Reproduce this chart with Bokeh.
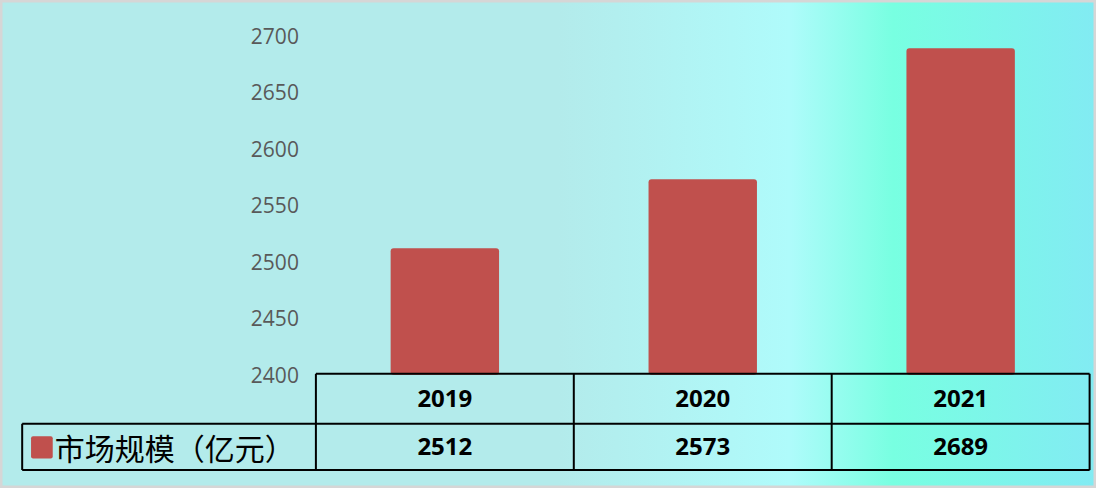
from bokeh.plotting import figure
from bokeh.models import Range1d, LinearAxis, FixedTicker, ColumnDataSource
from bokeh.core.properties import value
from bokeh.embed import file_html
from bokeh.resources import INLINE
import numpy as np

# ---- data ----
years = ["2019", "2020", "2021"]
market_size = [2512, 2573, 2689]
series_name = "市场规模（亿元）"
y_ticks = [2400, 2450, 2500, 2550, 2600, 2650, 2700]

# ---- layout helpers (reference pixel -> data units) ----
W, H = 1096, 488
REF_W, REF_H = 1112, 504
PX_PER_CAT = (1105 - 320) / 3.0   # reference px per category
X0_REF = 320.0                    # reference x of category 0 left edge
Y0_REF = 386.5                    # reference y of value 2400
BASE = 2400
UNITS_PER_PX = 300.0 / 350.0


def xr(ref_x):
    return (ref_x - X0_REF) / PX_PER_CAT


def yr(ref_y):
    return BASE + (Y0_REF - ref_y) * UNITS_PER_PX


p = figure(width=W, height=H, output_backend="svg", toolbar_location=None,
           x_range=Range1d(xr(0), xr(REF_W)), y_range=Range1d(yr(REF_H), yr(0)),
           x_axis_location=None, y_axis_location=None,
           min_border_left=0, min_border_right=0, min_border_top=0, min_border_bottom=0,
           background_fill_alpha=0, border_fill_alpha=0,
           outline_line_color="#D6D6D6", outline_line_width=4,
           styles={"background-image": "linear-gradient(to right, #B3EBEB 0%, #B3EBEB 51%, #AFFBFB 72%, #78FFE1 81.5%, #82EBF3 100%)"})
p.grid.visible = False

yaxis = LinearAxis(fixed_location=0, ticker=FixedTicker(ticks=y_ticks),
                   axis_line_color=None, major_tick_line_color=None, minor_tick_line_color=None,
                   major_tick_out=0, major_tick_in=0, minor_tick_out=0, minor_tick_in=0,
                   major_label_standoff=17, major_label_text_font="Open Sans",
                   major_label_text_font_size="21px", major_label_text_color="#595959")
p.add_layout(yaxis, "left")

xs = np.arange(len(years)) + 0.5
src = ColumnDataSource(dict(x=xs, top=market_size, year=years,
                            label=[str(v) for v in market_size]))
p.vbar(x="x", top="top", bottom=BASE, width=110 / PX_PER_CAT, source=src,
       fill_color="#C0504D", line_color=None, border_radius=3)

# ---- data table ----
n = len(years)
y_top, y_mid, y_bot = yr(385.5), yr(437), yr(485)
x_leg = xr(22)
lc, lw = "black", 2
p.segment(x0=[0, x_leg, x_leg], x1=[n, n, n], y0=[y_top, y_mid, y_bot], y1=[y_top, y_mid, y_bot],
          line_color=lc, line_width=lw)
vx = list(range(n + 1))
p.segment(x0=vx, x1=vx, y0=[y_top] * (n + 1), y1=[y_bot] * (n + 1), line_color=lc, line_width=lw)
p.segment(x0=[x_leg], x1=[x_leg], y0=[y_mid], y1=[y_bot], line_color=lc, line_width=lw)

p.text(x="x", y=yr(411), text="year", source=src, text_align="center", text_baseline="middle",
       text_font=value("Open Sans"), text_font_style="bold", text_font_size="24px", text_color="black")
p.text(x="x", y=yr(461), text="label", source=src, text_align="center", text_baseline="middle",
       text_font=value("Open Sans"), text_font_style="bold", text_font_size="24px", text_color="black")

# legend key in table
p.rect(x=[xr(42)], y=[yr(461.5)], width=22 / PX_PER_CAT, height=23 * UNITS_PER_PX,
       fill_color="#C0504D", line_color=None, border_radius=2)
p.text(x=[xr(55)], y=[yr(461)], text=[series_name], text_align="left", text_baseline="middle",
       text_font=value("Noto Sans CJK SC"), text_font_size="30px", text_color="black")

open("out.html", "w").write(file_html(p, INLINE))
